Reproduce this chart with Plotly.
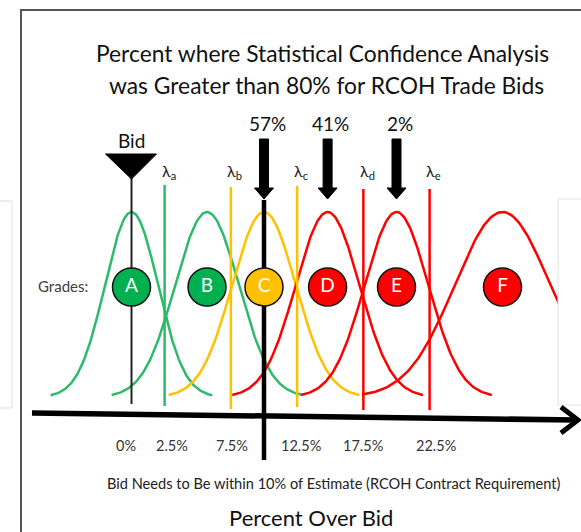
import numpy as np
import plotly.graph_objects as go

# ---------------- data ----------------
grades = ["A", "B", "C", "D", "E", "F"]
grade_centers = [0.0, 5.7, 10.0, 14.8, 20.0, 28.0]      # % over bid
grade_sigmas = [2.0, 2.4, 2.4, 2.4, 2.4, 3.6]
grade_halfwidths = [6.1, 7.2, 7.2, 7.2, 7.2, 10.6]

threshold_names = ["Bid", "λa", "λb", "Limit 10%", "λc", "λd", "λe"]
threshold_values = [0.0, 2.5, 7.5, 10.0, 12.5, 17.5, 22.5]

lambda_letters = ["a", "b", "c", "d", "e"]
lambda_values = [2.5, 7.5, 12.5, 17.5, 22.5]

tick_values = [0.0, 2.5, 7.5, 12.5, 17.5, 22.5]
tick_labels = ["0%", "2.5%", "7.5%", "12.5%", "17.5%", "22.5%"]

arrow_grades = ["C", "D", "E"]
arrow_percents = [57, 41, 2]

# ---------------- styles / geometry ----------------
W, H = 581, 532
PXU = 13.25            # pixels per percent
X0PX = 131.5           # pixel of 0 %
XMIN = -X0PX / PXU
XMAX = (W - X0PX) / PXU
BASE_PX, PEAK_SPAN = 397.0, 185.0
YMIN = (BASE_PX - H) / PEAK_SPAN
YMAX = BASE_PX / PEAK_SPAN


def ypx(py):
    return (BASE_PX - py) / PEAK_SPAN


def pxp(px):
    return px / W


def pyp(py):
    return 1 - py / H


GREEN = "#2DBA6A"
GFILL = "#00B050"
YELLOW = "#FFC000"
RED = "#FF0000"
FONT = "Lato"
curve_colors = [GREEN, GREEN, YELLOW, RED, RED, RED]
circle_colors = [GFILL, GFILL, YELLOW, RED, RED, RED]
line_colors = ["#222222", GREEN, YELLOW, "#000000", YELLOW, RED, RED]
line_widths = [2, 2.5, 2.5, 4.5, 2.5, 2.5, 2.5]
line_tops = [178, 185, 187, 200, 186, 189, 189]
line_bots = [404, 406, 409, 460, 407, 410, 410]
tick_label_shifts = [-6, 7, 1, 4, 0, 6]

fig = go.Figure()

# bell curves
for g, mu, s, hw, c in zip(grades, grade_centers, grade_sigmas, grade_halfwidths, curve_colors):
    xs = np.linspace(mu - hw, mu + hw, 161)
    ys = np.exp(-0.5 * ((xs - mu) / s) ** 2)
    fig.add_trace(go.Scatter(x=xs, y=ys, mode="lines", line=dict(color=c, width=2.5),
                             name=g, hoverinfo="skip", showlegend=False))

# threshold lines
for name, v, c, w, t, b in zip(threshold_names, threshold_values, line_colors, line_widths, line_tops, line_bots):
    fig.add_trace(go.Scatter(x=[v, v], y=[ypx(t), ypx(b)], mode="lines",
                             line=dict(color=c, width=w), name=name,
                             hoverinfo="skip", showlegend=False))

# grade circles
CIRCLE_Y = ypx(287)
fig.add_trace(go.Scatter(
    x=grade_centers, y=[CIRCLE_Y] * len(grades), mode="markers+text",
    text=grades, textposition="middle center",
    textfont=dict(color="white", size=19, family=FONT),
    marker=dict(size=38, color=circle_colors, line=dict(color="#111111", width=1.5)),
    hoverinfo="skip", showlegend=False))

shapes = []
annotations = []


def ann(x, y, text, size, color="#111111", xref="paper", yref="paper", xshift=0):
    annotations.append(dict(x=x, y=y, xref=xref, yref=yref, text=text, showarrow=False,
                            xanchor="center", yanchor="middle", xshift=xshift,
                            font=dict(size=size, color=color, family=FONT)))


# frame
shapes.append(dict(type="line", xref="paper", yref="paper", x0=pxp(21), x1=pxp(21),
                   y0=pyp(10), y1=pyp(540), line=dict(color="#555555", width=2)))
shapes.append(dict(type="line", xref="paper", yref="paper", x0=pxp(20), x1=pxp(590),
                   y0=pyp(10), y1=pyp(10), line=dict(color="#555555", width=2)))

# side boxes (background artefacts)
shapes.append(dict(type="rect", xref="paper", yref="paper", x0=pxp(-5), x1=pxp(12),
                   y0=pyp(408), y1=pyp(201), fillcolor="white",
                   line=dict(color="#DDDDDD", width=1), layer="above"))
shapes.append(dict(type="rect", xref="paper", yref="paper", x0=pxp(558), x1=pxp(590),
                   y0=pyp(405), y1=pyp(199), fillcolor="white",
                   line=dict(color="#E4E4E4", width=1), layer="above"))

# horizontal axis arrow
shapes.append(dict(type="path", xref="paper", yref="paper",
                   path=f"M {pxp(32)},{pyp(413)} L {pxp(576)},{pyp(420)}",
                   line=dict(color="black", width=5.5), layer="above"))
shapes.append(dict(type="path", xref="paper", yref="paper",
                   path=f"M {pxp(561)},{pyp(407)} L {pxp(578)},{pyp(420)} L {pxp(561)},{pyp(433)}",
                   line=dict(color="black", width=5), layer="above"))

# bid triangle
shapes.append(dict(type="path", xref="x", yref="y", xsizemode="pixel", xanchor=threshold_values[0],
                   path=f"M -26,{ypx(154)} L 25,{ypx(154)} L 0,{ypx(179)} Z",
                   fillcolor="black", line=dict(color="black", width=1), layer="above"))
ann(threshold_values[0], ypx(140), "Bid", 19, xref="x", yref="y")

# down arrows with percentages
for g, p in zip(arrow_grades, arrow_percents):
    xc = grade_centers[grades.index(g)]
    shapes.append(dict(type="path", xref="x", yref="y", xsizemode="pixel", xanchor=xc,
                       path=(f"M -4.5,{ypx(139)} L 4.5,{ypx(139)} L 4.5,{ypx(188)} L 9.5,{ypx(188)} "
                             f"L 0,{ypx(199)} L -9.5,{ypx(188)} L -4.5,{ypx(188)} Z"),
                       fillcolor="black", line=dict(color="black", width=1), layer="above"))
    ann(xc, ypx(123), f"{p}%", 19, xref="x", yref="y", xshift=3)

# lambda labels
for l, v in zip(lambda_letters, lambda_values):
    ann(v, ypx(171), f"λ<sub>{l}</sub>", 16, color="#222222", xref="x", yref="y", xshift=4)

# tick labels
for v, t, s in zip(tick_values, tick_labels, tick_label_shifts):
    ann(v, ypx(445), t, 14.5, color="#333333", xref="x", yref="y", xshift=s)

# texts
ann(pxp(63), pyp(286), "Grades:", 15, color="#404040")
ann(pxp(322), pyp(53), "Percent where Statistical Confidence Analysis", 22.8)
ann(pxp(326), pyp(85), "was Greater than 80% for RCOH Trade Bids", 22.8)
ann(pxp(334), pyp(483), "Bid Needs to Be within 10% of Estimate (RCOH Contract Requirement)", 14.6,
    color="#222222")
ann(pxp(311), pyp(517), "Percent Over Bid", 22)

fig.update_layout(
    width=W, height=H, margin=dict(l=0, r=0, t=0, b=0),
    paper_bgcolor="white", plot_bgcolor="white",
    xaxis=dict(range=[XMIN, XMAX], visible=False, fixedrange=True),
    yaxis=dict(range=[YMIN, YMAX], visible=False, fixedrange=True),
    shapes=shapes, annotations=annotations, showlegend=False,
)

fig.write_html("out.html", config={"displayModeBar": False},
               post_script="document.body.style.margin='0';document.body.style.overflow='hidden';")
